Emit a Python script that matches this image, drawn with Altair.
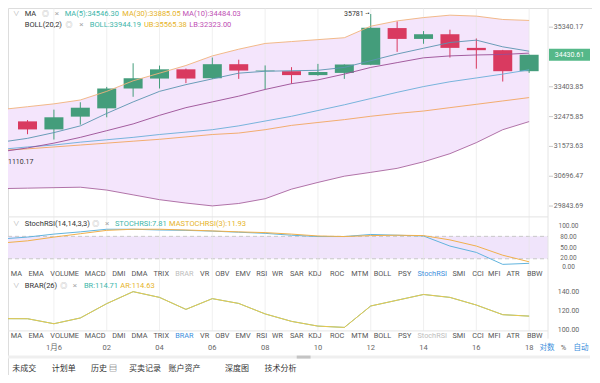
import altair as alt
import pandas as pd

# ================= DATA =================
candle_idx = list(range(20))
opens  = [32330, 32085, 32475, 32730, 33350, 33665, 33960, 33675, 34125, 33900,
          33900, 33775, 33845, 34105, 35310, 34950, 35105, 34655, 34580, 33900]
highs  = [32370, 32690, 32920, 33400, 34155, 34080, 33985, 34340, 34270, 34085,
          34030, 34135, 34120, 35781, 35535, 35210, 35255, 34965, 34590, 34435]
lows   = [31940, 31780, 32230, 32455, 33090, 33350, 33520, 33650, 33655, 33320,
          33500, 33755, 33655, 34095, 34525, 34790, 34340, 33980, 33570, 33845]
closes = [32085, 32455, 32750, 33350, 33675, 33960, 33665, 34125, 33920, 33920,
          33775, 33875, 34115, 35320, 34950, 35105, 34655, 34580, 33900, 34430.61]

line_idx = list(range(-1, 20))
ma5  = [31701, 31816, 31989, 32193, 32574, 32930, 33260, 33472, 33654, 33837, 33898,
        33914, 33929, 34021, 34238, 34455, 34643, 34831, 34910, 34690, 34546.30]
ma10 = [31415, 31529, 31672, 31845, 32047, 32252, 32515, 32752, 32930, 33110, 33320,
        33502, 33623, 33807, 34021, 34176, 34331, 34393, 34424, 34440, 34484.03]
ma30 = [31458, 31501, 31558, 31615, 31672, 31730, 31787, 31859, 31931, 31975, 32077,
        32208, 32296, 32383, 32486, 32574, 32648, 32752, 32855, 32960, 33065]
boll = [31487, 31558, 31615, 31701, 31773, 31845, 31931, 32004, 32077, 32193, 32340,
        32486, 32663, 32840, 33035, 33230, 33411, 33563, 33684, 33807, 33944.19]
ub   = [32692, 32781, 32870, 32990, 33260, 33593, 33837, 34083, 34393, 34612, 34800,
        34863, 34926, 34989, 35372, 35550, 35662, 35743, 35711, 35598, 35565.38]
lb   = [30339, 30353, 30367, 30380, 30298, 30161, 30024, 29929, 29848, 29916, 30051,
        30325, 30518, 30698, 30809, 30926, 31118, 31358, 31687, 32077, 32323.00]

stoch_k = [73, 78, 86, 92, 99, 99, 97, 96, 94, 91, 88, 83, 79.5, 79.5, 85, 83, 81, 54, 37, 5, 7.81]
stoch_d = [62, 68, 78, 87, 96, 99, 99, 97, 94.5, 92, 90, 86, 81, 79.5, 82, 83, 82, 70.5, 54, 29.5, 11.93]

brar_ar = [112.0, 111.9, 106.6, 112.7, 127.9, 140.6, 134.5, 121.8, 133.2, 128.1, 117.0,
           109.1, 104.1, 102.7, 125.4, 131.5, 137.6, 134.5, 126.4, 116.2, 114.63]
brar_br = [112.0, 111.9, 106.6, 112.7, 127.9, 140.6, 134.5, 121.8, 133.2, 128.1, 117.0,
           109.1, 104.1, 102.7, 125.4, 131.5, 137.6, 134.5, 126.4, 116.2, 114.71]

price_ticks = [35340.17, 33403.85, 32475.85, 31573.63, 30696.47, 29843.69]
price_tick_labels = ["35340.17", "33403.85", "32475.85", "31573.63", "30696.47", "29843.69"]
last_price = 34430.61
max_high = 35781
min_low = 31110.17
stoch_ticks = [100, 80, 50, 20, 0]
stoch_band = [20, 80]
brar_ticks = [140, 120, 100]
time_idx = [1, 3, 5, 7, 9, 11, 13, 15, 17, 19]
time_labels = ["1月6", "02", "04", "06", "08", "10", "12", "14", "16", "18"]

ma_header = ["MA(5):34546.30", "MA(30):33885.05", "MA(10):34484.03"]
boll_header = ["BOLL:33944.19", "UB:35565.38", "LB:32323.00"]
stoch_header = ["STOCHRSI:7.81", "MASTOCHRSI(3):11.93"]
brar_header = ["BR:114.71", "AR:114.63"]
indicator_buttons = ["MA", "EMA", "VOLUME", "MACD", "DMI", "DMA", "TRIX", "BRAR", "VR", "OBV",
                     "EMV", "RSI", "WR", "SAR", "KDJ", "ROC", "MTM", "BOLL", "PSY", "StochRSI",
                     "SMI", "CCI", "MFI", "ATR", "BBW"]
bottom_tabs = ["未成交", "计划单", "历史 ▤", "买卖记录", "账户资产", "深度图", "技术分析"]

# ================= LAYOUT / STYLE =================
W, H = 584, 367
PW = 540
SX = PW / 548
SY = H / 383


def px(X):
    return X * SX if X <= 548 else X - 8


def py(Y):
    return Y * SY


button_x = [8.5, 28.5, 57.5, 88.5, 112.5, 133.5, 155.5, 179, 199.5, 217.5, 238.5, 257.5,
            273.5, 293, 311.5, 334, 357, 380, 402.5, 430.5, 457.5, 477, 493.5, 512.5, 534.5]
tab_x = [16.5, 56.5, 97.5, 139, 179, 232.5, 276.5]

FONT = "Roboto, 'Noto Sans CJK SC', sans-serif"
GREEN = "#449d7b"
RED = "#d93a60"
BOX_GREEN = "#55b889"
TEAL = "#3db5a9"
GOLD = "#e6b328"
MAGENTA = "#c04fb4"
BLUE_BTN = "#3d8fdc"

xs = alt.Scale(domain=[-0.55, 19.525], range=[0, PW], nice=False, zero=False)
X = alt.X("i:Q", scale=xs, axis=None)

ys_main = alt.Scale(type="log", domain=[29566.4, 35986.0], range=[py(217), py(0)], nice=False, zero=False)
ys_stoch = alt.Scale(domain=[0, 100], range=[py(269.5), py(230.5)], nice=False, zero=False)
ys_brar = alt.Scale(domain=[100, 140], range=[py(336), py(296.6)], nice=False, zero=False)


def Y(field, scale):
    return alt.Y(f"{field}:Q", scale=scale, axis=None)


cdf = pd.DataFrame({"i": candle_idx, "o": opens, "h": highs, "l": lows, "c": closes})
cdf["top"] = cdf[["o", "c"]].max(axis=1)
cdf["bot"] = cdf[["o", "c"]].min(axis=1)
cdf["dir"] = ["up" if c >= o else "down" for o, c in zip(opens, closes)]

ldf = pd.DataFrame({"i": line_idx, "ma5": ma5, "ma10": ma10, "ma30": ma30, "boll": boll,
                    "ub": ub, "lb": lb, "k": stoch_k, "d": stoch_d, "ar": brar_ar, "br": brar_br})

one = pd.DataFrame({"k": [0]})


def label(text, Xr, Yr, color="#333", size=7.5, align="left", weight="normal"):
    return alt.Chart(one).mark_text(text=text, align=align, baseline="middle", fontSize=size,
                                    color=color, font=FONT, fontWeight=weight).encode(
        x=alt.value(px(Xr)), y=alt.value(py(Yr)))


layers = []

# ---- main panel band fill
layers.append(alt.Chart(ldf).mark_area(color="#f4e5fc", clip=True).encode(
    x=X, y=Y("ub", ys_main), y2="lb:Q"))

# ---- stoch band + dashed levels
sb = pd.DataFrame({"lo": [stoch_band[0]], "hi": [stoch_band[1]]})
layers.append(alt.Chart(sb).mark_rect(color="#f0e4fb").encode(
    x=alt.value(0), x2=alt.value(PW), y=Y("lo", ys_stoch), y2="hi:Q"))
layers.append(alt.Chart(pd.DataFrame({"v": stoch_band})).mark_rule(
    color="#c8c8c8", strokeDash=[4, 3], strokeWidth=1).encode(
    x=alt.value(0), x2=alt.value(PW), y=Y("v", ys_stoch)))

# ---- vertical grid lines
tdf = pd.DataFrame({"i": time_idx, "lab": time_labels})
layers.append(alt.Chart(tdf).mark_rule(color="#e6e6e6", opacity=0.6, strokeWidth=1).encode(
    x=X, y=alt.value(0), y2=alt.value(py(337))))

# ---- separators and right axis line
for Ysep in [218, 337]:
    layers.append(alt.Chart(one).mark_rule(color="#e4e4e4", strokeWidth=1).encode(
        x=alt.value(0), x2=alt.value(PW), y=alt.value(py(Ysep))))
layers.append(alt.Chart(one).mark_rule(color="#e4e4e4", strokeWidth=1).encode(
    x=alt.value(PW), y=alt.value(0), y2=alt.value(py(345))))

# ---- candles
cscale = alt.Scale(domain=["up", "down"], range=[GREEN, RED])
C = alt.Color("dir:N", scale=cscale, legend=None)
layers.append(alt.Chart(cdf).mark_rule(strokeWidth=1).encode(
    x=X, y=Y("l", ys_main), y2="h:Q", color=C))
layers.append(alt.Chart(cdf).mark_bar(size=19).encode(
    x=X, y=Y("bot", ys_main), y2="top:Q", color=C))

# ---- indicator lines (main)
for fld, col in [("ma30", "#f2a660"), ("boll", "#6aaed8"), ("lb", "#a8659f"),
                 ("ub", "#f1b27c"), ("ma10", "#9a4e95"), ("ma5", "#5b95b0")]:
    layers.append(alt.Chart(ldf).mark_line(color=col, strokeWidth=1, opacity=0.9, clip=True).encode(
        x=X, y=Y(fld, ys_main)))

# ---- stoch lines
for fld, col in [("k", "#62b4de"), ("d", "#f0b04c")]:
    layers.append(alt.Chart(ldf).mark_line(color=col, strokeWidth=1, clip=True).encode(
        x=X, y=Y(fld, ys_stoch)))

# ---- brar lines
for fld, col in [("br", "#6fc3b0"), ("ar", "#e9c84e")]:
    layers.append(alt.Chart(ldf).mark_line(color=col, strokeWidth=1, clip=True).encode(
        x=X, y=Y(fld, ys_brar)))

# ---- price axis labels
pdf = pd.DataFrame({"p": price_ticks, "lab": price_tick_labels})
layers.append(alt.Chart(pdf).mark_rule(color="#cccccc").encode(
    x=alt.value(px(549)), x2=alt.value(px(553)), y=Y("p", ys_main)))
layers.append(alt.Chart(pdf).mark_text(align="center", baseline="middle", fontSize=7,
                                       color="#666", font=FONT).encode(
    x=alt.value(px(568.5)), y=Y("p", ys_main), text="lab:N"))

# current price box
lp = pd.DataFrame({"p": [last_price], "lab": [f"{last_price:.2f}"]})
layers.append(alt.Chart(lp).mark_rule(color=BOX_GREEN, strokeWidth=12, strokeCap="butt").encode(
    x=alt.value(px(549)), x2=alt.value(px(590)), y=Y("p", ys_main)))
layers.append(alt.Chart(lp).mark_text(align="center", baseline="middle", fontSize=7,
                                      color="white", font=FONT).encode(
    x=alt.value(px(569.5)), y=Y("p", ys_main), text="lab:N"))

# max / min markers
mh = pd.DataFrame({"i": [13], "p": [max_high], "lab": [f"{max_high} -•"]})
layers.append(alt.Chart(mh).mark_text(align="right", baseline="middle", fontSize=7,
                                      color="#333", font=FONT, dx=-1).encode(
    x=X, y=Y("p", ys_main), text="lab:N"))
ml = pd.DataFrame({"p": [min_low], "lab": [f"{min_low:.2f}"[1:]]})
layers.append(alt.Chart(ml).mark_text(align="left", baseline="middle", fontSize=7,
                                      color="#333", font=FONT).encode(
    x=alt.value(0), y=Y("p", ys_main), text="lab:N"))

# ---- stoch axis labels (slightly spread so they do not collide)
sdf = pd.DataFrame({"v": stoch_ticks, "lab": [f"{v:.2f}" for v in stoch_ticks]})
for vals, dy in [([100], -2.5), ([80], 0.5), ([50], 0), ([20], -1), ([0], 1)]:
    layers.append(alt.Chart(sdf[sdf["v"].isin(vals)]).mark_text(
        align="center", baseline="middle", fontSize=6.5, color="#666", font=FONT, dy=dy).encode(
        x=alt.value(px(568.5)), y=Y("v", ys_stoch), text="lab:N"))

# ---- brar axis labels
bdf = pd.DataFrame({"v": brar_ticks, "lab": [f"{v:.2f}" for v in brar_ticks]})
layers.append(alt.Chart(bdf).mark_text(align="center", baseline="middle", fontSize=7,
                                       color="#666", font=FONT).encode(
    x=alt.value(px(568.5)), y=Y("v", ys_brar), text="lab:N"))

# ---- time axis labels
layers.append(alt.Chart(tdf).mark_text(align="center", baseline="middle", fontSize=7.5,
                                       color="#666", font=FONT).encode(
    x=X, y=alt.value(py(355)), text="lab:N"))
layers.append(label("对数", 547, 355, BLUE_BTN, 7.5, "center"))
layers.append(label("%", 563.5, 355, "#666", 7.5, "center"))
layers.append(label("自动", 581, 355, BLUE_BTN, 7.5, "center"))

# scrollbar
layers.append(alt.Chart(one).mark_rule(color="#efefef", strokeWidth=3).encode(
    x=alt.value(0), x2=alt.value(px(590)), y=alt.value(py(364.3))))
layers.append(alt.Chart(one).mark_rule(color="#c4c4c4", strokeWidth=3).encode(
    x=alt.value(px(293)), x2=alt.value(px(307)), y=alt.value(py(364.3))))

# ---- headers
ICON = "#a8a8a8"
# MA row
layers.append(label("∨", 5, 6, ICON, 6.5))
layers.append(label("MA", 17, 6, "#333", 7.5))
layers.append(label("◎", 38, 6, ICON, 7, "center"))
layers.append(label("×", 49.5, 6, ICON, 8, "center"))
for t, x0, col in zip(ma_header, [57.5, 116, 177], [TEAL, GOLD, MAGENTA]):
    layers.append(label(t, x0, 6, col, 7.5))
# BOLL row
layers.append(label("BOLL(20,2)", 17, 17.5, "#333", 7.5))
layers.append(label("◎", 62, 17.5, ICON, 7, "center"))
layers.append(label("×", 74.5, 17.5, ICON, 8, "center"))
for t, x0, col in zip(boll_header, [83, 138, 184], [TEAL, GOLD, MAGENTA]):
    layers.append(label(t, x0, 17.5, col, 7.5))
# StochRSI header
layers.append(label("∨", 5, 225, ICON, 6.5))
layers.append(label("StochRSI(14,14,3,3)", 17, 225, "#333", 7.5))
layers.append(label("◎", 89, 225, ICON, 7, "center"))
layers.append(label("×", 100.5, 225, ICON, 8, "center"))
for t, x0, col in zip(stoch_header, [108.5, 163.5], [TEAL, GOLD]):
    layers.append(label(t, x0, 225, col, 7.5))
# BRAR header
layers.append(label("∨", 5, 290, ICON, 6.5))
layers.append(label("BRAR(26)", 17, 290, "#333", 7.5))
layers.append(label("◎", 56.5, 290, ICON, 7, "center"))
layers.append(label("×", 68, 290, ICON, 8, "center"))
for t, x0, col in zip(brar_header, [77, 114], [TEAL, GOLD]):
    layers.append(label(t, x0, 290, col, 7.5))

# ---- indicator button rows
for rowY, active, muted in [(277.5, "StochRSI", "BRAR"), (342.5, "BRAR", "StochRSI")]:
    for name, xc in zip(indicator_buttons, button_x):
        col = BLUE_BTN if name == active else ("#bdbdbd" if name == muted else "#555")
        layers.append(label(name, xc, rowY, col, 7.3, "center"))

# ---- bottom tabs
for name, xc in zip(bottom_tabs, tab_x):
    layers.append(label(name, xc, 377, "#333", 8, "center"))

chart = alt.layer(*layers).resolve_scale(y="independent").properties(
    width=W, height=H, autosize=alt.AutoSizeParams(type="none"), padding=0
).configure_view(strokeWidth=0).configure(background="white")

chart.save("out.html", embed_options={"renderer": "svg", "actions": False})
